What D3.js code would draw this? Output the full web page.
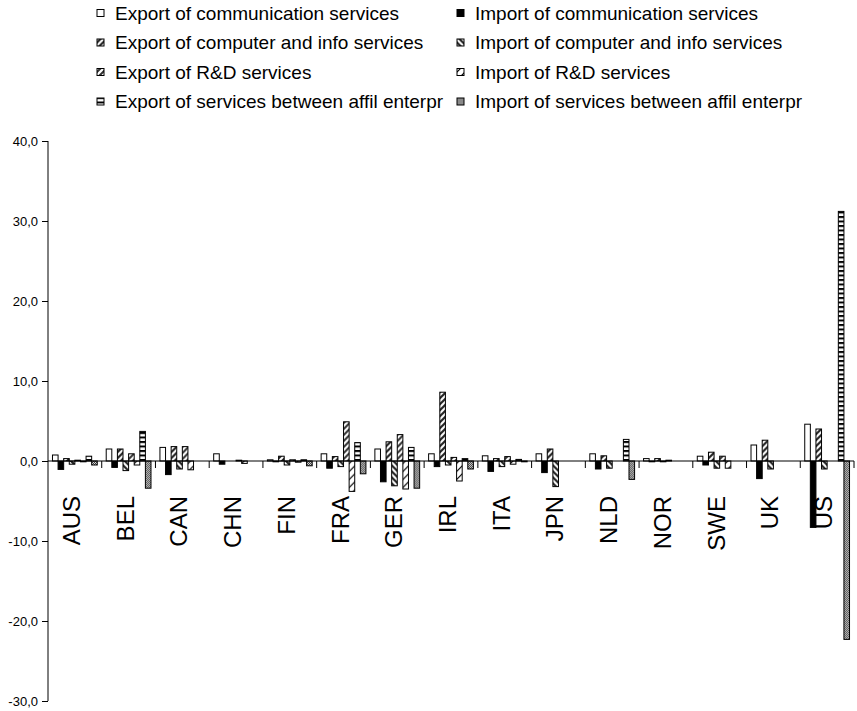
<!DOCTYPE html>
<html>
<head>
<meta charset="utf-8">
<script src="https://cdn.jsdelivr.net/npm/d3@7"></script>
<style>
  html, body { margin: 0; padding: 0; background: #fff; }
  svg { display: block; font-family: "Liberation Sans", Arial, sans-serif; }
</style>
</head>
<body>
<svg id="chart" width="857" height="711"></svg>
<script>
// Countries along the category axis
const countries = ["AUS", "BEL", "CAN", "CHN", "FIN", "FRA", "GER", "IRL", "ITA", "JPN", "NLD", "NOR", "SWE", "UK", "US"];

// Legend labels, one per series (exports in the left column, imports in the right)
const seriesNames = [
  "Export of communication services",
  "Import of communication services",
  "Export of computer and info services",
  "Import of computer and info services",
  "Export of R&D services",
  "Import of R&D services",
  "Export of services between affil enterpr",
  "Import of services between affil enterpr"
];

// Series values per country
const exportComm = [0.75, 1.5, 1.7, 0.9, 0.15, 0.9, 1.5, 0.9, 0.65, 0.9, 0.9, 0.3, 0.6, 2.0, 4.6];
const importComm = [-1.05, -0.8, -1.7, -0.4, -0.1, -0.9, -2.6, -0.7, -1.3, -1.45, -1.0, -0.1, -0.5, -2.2, -8.3];
const exportComp = [0.3, 1.5, 1.8, 0, 0.6, 0.55, 2.4, 8.6, 0.3, 1.5, 0.65, 0.3, 1.1, 2.6, 4.0];
const importComp = [-0.4, -1.2, -1.0, 0, -0.5, -0.7, -3.1, -0.5, -0.7, -3.2, -0.9, -0.1, -0.9, -1.0, -1.0];
const exportRD   = [0.1, 0.9, 1.8, 0.1, 0.15, 4.9, 3.3, 0.45, 0.55, 0, 0, 0.1, 0.6, 0, 0];
const importRD   = [-0.1, -0.5, -1.1, -0.3, -0.15, -3.8, -3.5, -2.5, -0.4, 0, 0, 0, -0.9, 0, 0];
const exportAff  = [0.6, 3.7, 0, 0, 0.15, 2.3, 1.7, 0.3, 0.2, 0, 2.7, 0, 0, 0, 31.2];
const importAff  = [-0.5, -3.4, 0, 0, -0.6, -1.6, -3.4, -1.0, -0.1, 0, -2.3, 0, 0, 0, -22.3];

// Value axis ticks
const yTicks = [-30, -20, -10, 0, 10, 20, 30, 40];

const seriesValues = [exportComm, importComm, exportComp, importComp, exportRD, importRD, exportAff, importAff];
const fillIds = ["p-exp-comm", "p-imp-comm", "p-exp-comp", "p-imp-comp", "p-exp-rd", "p-imp-rd", "p-exp-aff", "p-imp-aff"];

const svg = d3.select("#chart");
const defs = svg.append("defs");

// Fill patterns
function pat(id, w, h) {
  return defs.append("pattern").attr("id", id).attr("patternUnits", "userSpaceOnUse")
    .attr("width", w).attr("height", h);
}
pat("p-exp-comm", 4, 4).append("rect").attr("width", 4).attr("height", 4).attr("fill", "#fff");
pat("p-imp-comm", 4, 4).append("rect").attr("width", 4).attr("height", 4).attr("fill", "#000");
{
  const p = pat("p-exp-comp", 6, 6);
  p.append("rect").attr("width", 6).attr("height", 6).attr("fill", "#fff");
  p.append("path").attr("d", "M-1,1 L1,-1 M0,6 L6,0 M5,7 L7,5").attr("stroke", "#222").attr("stroke-width", 2.2);
}
{
  const p = pat("p-imp-comp", 6, 6);
  p.append("rect").attr("width", 6).attr("height", 6).attr("fill", "#fff");
  p.append("path").attr("d", "M-1,5 L1,7 M0,0 L6,6 M5,-1 L7,1").attr("stroke", "#222").attr("stroke-width", 2.2);
}
{
  const p = pat("p-exp-rd", 6, 6);
  p.append("rect").attr("width", 6).attr("height", 6).attr("fill", "#fff");
  p.append("path").attr("d", "M-1,1 L1,-1 M0,6 L6,0 M5,7 L7,5").attr("stroke", "#333").attr("stroke-width", 2);
}
{
  const p = pat("p-imp-rd", 8, 8);
  p.append("rect").attr("width", 8).attr("height", 8).attr("fill", "#fff");
  p.append("path").attr("d", "M-1,1 L1,-1 M0,8 L8,0 M7,9 L9,7").attr("stroke", "#000").attr("stroke-width", 1.2);
}
{
  const p = pat("p-exp-aff", 6, 4.5);
  p.append("rect").attr("width", 6).attr("height", 4.5).attr("fill", "#fff");
  p.append("rect").attr("width", 6).attr("height", 2).attr("fill", "#000");
}
{
  const p = pat("p-imp-aff", 2, 2);
  p.append("rect").attr("width", 2).attr("height", 2).attr("fill", "#d8d8d8");
  p.append("rect").attr("x", 0).attr("y", 0).attr("width", 1).attr("height", 1).attr("fill", "#3a3a3a");
  p.append("rect").attr("x", 1).attr("y", 1).attr("width", 1).attr("height", 1).attr("fill", "#3a3a3a");
}

// Scales
const plotLeft = 48, plotRight = 854;
const y = d3.scaleLinear().domain([-30, 40]).range([701, 141]);
const x0 = d3.scaleBand().domain(countries).range([plotLeft, plotRight]).paddingInner(0).paddingOuter(0);
const x1 = d3.scaleBand().domain(d3.range(8)).range([0, x0.bandwidth()]).paddingInner(0).paddingOuter(0.8);

// Bars
const groups = svg.append("g").selectAll("g").data(countries).join("g")
  .attr("transform", d => `translate(${x0(d)},0)`);

groups.selectAll("rect")
  .data((c, ci) => seriesValues.map((vals, si) => ({ si, v: vals[ci] })).filter(d => d.v !== 0))
  .join("rect")
  .attr("x", d => x1(d.si))
  .attr("width", x1.bandwidth())
  .attr("y", d => y(Math.max(0, d.v)))
  .attr("height", d => Math.abs(y(d.v) - y(0)))
  .attr("fill", d => `url(#${fillIds[d.si]})`)
  .attr("stroke", "#000")
  .attr("stroke-width", 1);

// Value axis
const yAxis = svg.append("g").attr("transform", `translate(${plotLeft},0)`)
  .call(d3.axisLeft(y).tickValues(yTicks).tickSize(6).tickPadding(4)
    .tickFormat(d => d3.format(".1f")(d).replace(".", ",").replace("−", "-")));
yAxis.select(".domain").attr("stroke", "#000").attr("d", `M0,${y(-30)}V${y(40)}`);
yAxis.selectAll(".tick line").attr("stroke", "#000");
yAxis.selectAll(".tick text").attr("font-size", 13).attr("fill", "#000")
  .attr("font-family", "'Liberation Sans', Arial, sans-serif");

// Category axis along zero
const xAxis = svg.append("g");
xAxis.append("line").attr("x1", plotLeft).attr("x2", plotRight)
  .attr("y1", y(0)).attr("y2", y(0)).attr("stroke", "#000");
xAxis.selectAll("line.tick").data(countries).join("line").attr("class", "tick")
  .attr("x1", d => x0(d) + x0.bandwidth()).attr("x2", d => x0(d) + x0.bandwidth())
  .attr("y1", y(0)).attr("y2", y(0) + 7).attr("stroke", "#000");
xAxis.selectAll("text").data(countries).join("text")
  .attr("transform", d => `translate(${x0(d) + x0.bandwidth() / 2 + 5},496) rotate(-90)`)
  .attr("text-anchor", "end")
  .attr("font-size", 24)
  .attr("fill", "#000")
  .text(d => d);

// Legend: two columns, exports left, imports right
const legend = svg.append("g");
const legendItems = legend.selectAll("g").data(seriesNames).join("g")
  .attr("transform", (d, i) => `translate(${i % 2 === 0 ? 97 : 457},${13 + Math.floor(i / 2) * 29.5})`);
legendItems.append("rect")
  .attr("x", 0).attr("y", -3.5).attr("width", 7).attr("height", 7)
  .attr("fill", (d, i) => `url(#${fillIds[i]})`)
  .attr("stroke", "#000").attr("stroke-width", 1);
legendItems.append("text")
  .attr("x", 18).attr("dy", "0.35em")
  .attr("font-size", 19).attr("fill", "#000")
  .text(d => d);
</script>
</body>
</html>
